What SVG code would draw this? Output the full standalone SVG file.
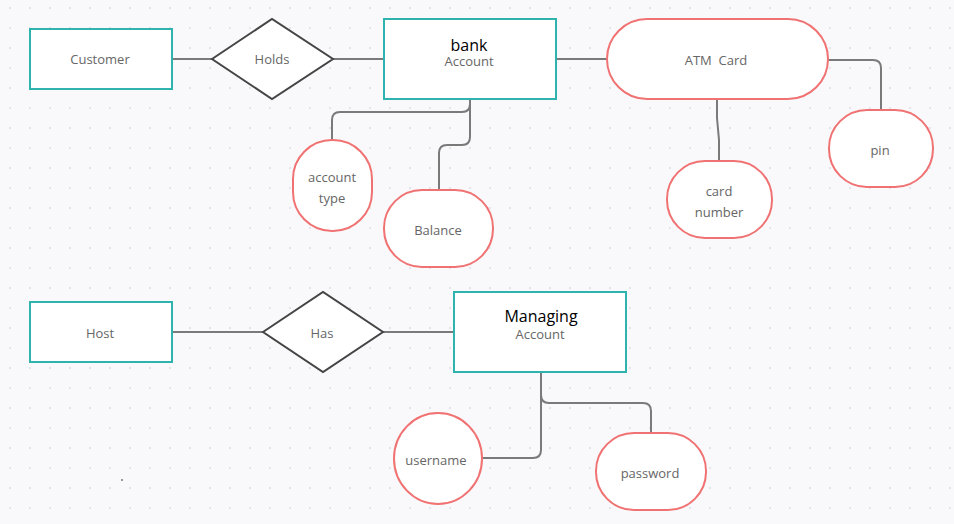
<svg xmlns="http://www.w3.org/2000/svg" width="954" height="524" viewBox="0 0 954 524">
<defs>
<pattern id="dots" x="0" y="0" width="20" height="20" patternUnits="userSpaceOnUse">
<circle cx="10" cy="8" r="1.1" fill="#dfdfe6"/>
</pattern>
<style>
.ent{fill:#fff;stroke:#2fb3ae;stroke-width:2}
.rel{fill:#fff;stroke:#454545;stroke-width:2}
.att{fill:#fff;stroke:#f07272;stroke-width:2}
.con{fill:none;stroke:#7a7a7a;stroke-width:2}
.t{font-family:"Open Sans","Noto Sans",sans-serif;font-size:13px;fill:#666;text-anchor:middle;white-space:pre}
.h{font-family:"Open Sans","Noto Sans",sans-serif;font-size:16px;fill:#000;text-anchor:middle}
</style>
</defs>
<rect width="954" height="524" fill="#f9f9fc"/>
<rect width="954" height="524" fill="url(#dots)"/>
<g id="connectors">
<path class="con" d="M172,59 H212"/>
<path class="con" d="M333,59 H384"/>
<path class="con" d="M556,59 H607"/>
<path class="con" d="M828,60 H873 Q881,60 881,68 V110"/>
<path class="con" d="M717,99 V118 L719,140 V161"/>
<path class="con" d="M470,99 V104 Q470,112 462,112 H340 Q332,112 332,120 V140"/>
<path class="con" d="M470,99 V137 Q470,145 462,145 H447 Q439,145 439,153 V190"/>
<path class="con" d="M172,332 H263"/>
<path class="con" d="M383,332 H454"/>
<path class="con" d="M541,372 V450 Q541,458 533,458 H482"/>
<path class="con" d="M541,372 V395 Q541,403 549,403 H643 Q651,403 651,411 V433"/>
</g>
<g id="customer"><rect class="ent" x="30" y="29" width="142" height="60"/><text class="t" x="100" y="64">Customer</text></g>
<g id="holds"><polygon class="rel" points="212,59 272,19 333,59 272,99"/><text class="t" x="272" y="64">Holds</text></g>
<g id="bank-account"><rect class="ent" x="384" y="19" width="172" height="80"/><text class="h" x="469" y="51">bank</text><text class="t" x="469" y="66">Account</text></g>
<g id="atm-card"><rect class="att" x="607" y="19" width="221" height="80" rx="40"/><text class="t" x="716" y="65">ATM  Card</text></g>
<g id="pin"><rect class="att" x="829" y="110" width="104" height="77" rx="38"/><text class="t" x="880" y="155">pin</text></g>
<g id="card-number"><rect class="att" x="667" y="161" width="105" height="77" rx="38"/><text class="t" x="719" y="196">card</text><text class="t" x="719" y="217">number</text></g>
<g id="account-type"><rect class="att" x="293" y="140" width="79" height="91" rx="39"/><text class="t" x="332" y="182">account</text><text class="t" x="332" y="203">type</text></g>
<g id="balance"><rect class="att" x="384" y="190" width="109" height="77" rx="38"/><text class="t" x="438" y="235">Balance</text></g>
<g id="host"><rect class="ent" x="30" y="302" width="142" height="60"/><text class="t" x="100" y="338">Host</text></g>
<g id="has"><polygon class="rel" points="263,332 323,292 383,332 323,372"/><text class="t" x="322" y="338">Has</text></g>
<g id="managing-account"><rect class="ent" x="454" y="292" width="172" height="80"/><text class="h" x="541" y="322">Managing</text><text class="t" x="540" y="339">Account</text></g>
<g id="username"><ellipse class="att" cx="438" cy="458.5" rx="44" ry="45.5"/><text class="t" x="436" y="465">username</text></g>
<g id="password"><rect class="att" x="596" y="433" width="110" height="77" rx="38"/><text class="t" x="650" y="478">password</text></g>
<circle cx="122" cy="480" r="1" fill="#777"/>
</svg>
